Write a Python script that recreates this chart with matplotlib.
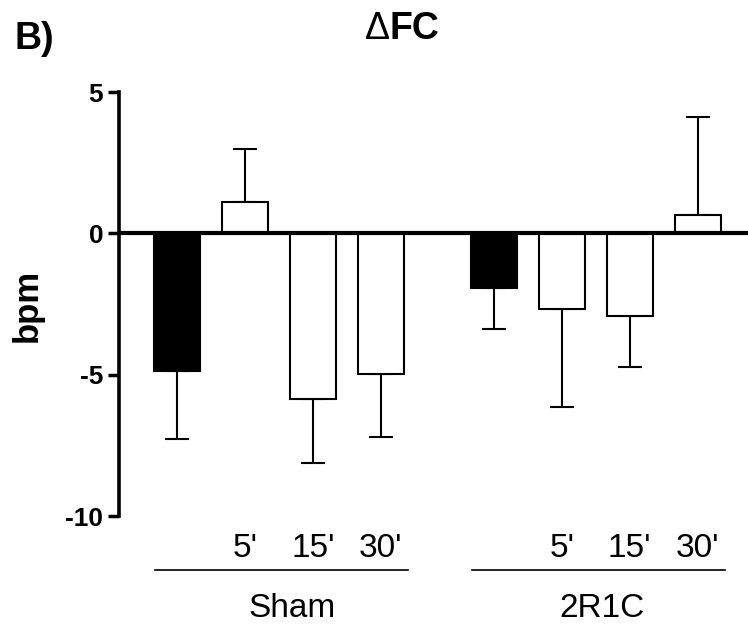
import matplotlib
matplotlib.use("Agg")
import matplotlib.pyplot as plt
import matplotlib.transforms as mtransforms
import numpy as np

plt.rcParams['font.family'] = ['Liberation Sans', 'DejaVu Sans']

groups = ["Sham", "2R1C"]
time_labels = ["", "5'", "15'", "30'"]
sham_mean = [-4.86, 1.10, -5.85, -4.96]
sham_err = [2.41, 1.88, 2.27, 2.23]
r1c_mean = [-1.95, -2.66, -2.91, 0.64]
r1c_err = [1.42, 3.47, 1.81, 3.47]
bar_colors = ["black", "white", "white", "white"]
y_ticks = [-10, -5, 0, 5]

fig = plt.figure(figsize=(7.48, 6.24), dpi=100)
ax = fig.add_axes([118.5 / 748, 1 - 516 / 624, 1 - 118.5 / 748, (516 - 92) / 624])

group_offset = 4.66
width = 0.68
for gi, (means, errs) in enumerate([(sham_mean, sham_err), (r1c_mean, r1c_err)]):
    x = np.arange(4) + gi * group_offset
    ax.bar(x, means, width=width, color=bar_colors, edgecolor="black", linewidth=1.5, zorder=2)
    means = np.array(means)
    errs = np.array(errs)
    lower = np.where(means < 0, errs, 0)
    upper = np.where(means >= 0, errs, 0)
    ax.errorbar(x, means, yerr=[lower, upper], fmt="none", ecolor="black",
                elinewidth=1.5, capsize=8.5, capthick=1.5, zorder=1)

ax.axhline(0, color="black", linewidth=3, zorder=3)

ax.set_xlim(-0.86, 8.40)
ax.set_ylim(-10, 5)
ax.set_yticks(y_ticks)
ax.set_yticklabels([str(v) for v in y_ticks], fontsize=19, fontweight="bold")
ax.tick_params(axis="y", length=8, width=2.5, pad=3)

xt = []
xl = []
for gi in range(2):
    for i in range(4):
        if time_labels[i]:
            xt.append(i + gi * group_offset)
            xl.append(time_labels[i])
ax.set_xticks(xt)
ax.set_xticklabels(xl, fontsize=24)
ax.tick_params(axis="x", length=0, pad=12)

for s in ["top", "right", "bottom"]:
    ax.spines[s].set_visible(False)
ax.spines["left"].set_linewidth(2.6)

trans = mtransforms.blended_transform_factory(ax.transData, ax.transAxes)
for gi, name in enumerate(groups):
    x0 = gi * group_offset - 0.32
    x1 = gi * group_offset + 3.40
    ax.plot([x0, x1], [-0.127, -0.127], color="black", linewidth=1.2,
            transform=trans, clip_on=False)
label_x = [1.70, 6.25]
for gi, name in enumerate(groups):
    ax.text(label_x[gi], -0.217, name, transform=trans, ha="center", va="center",
            fontsize=24)

fig.text(27 / 748, 1 - 305 / 624, "bpm", rotation=90, ha="center", va="center",
         fontsize=25, fontweight="bold")

fig.text(390 / 748, 1 - 29 / 624, "\u0394", ha="right", va="center",
         fontsize=27, fontweight="normal")
fig.text(390 / 748, 1 - 29 / 624, "FC", ha="left", va="center",
         fontsize=27, fontweight="bold")
fig.text(34 / 748, 1 - 39 / 624, "B)", ha="center", va="center",
         fontsize=27, fontweight="bold")

fig.savefig("out.png", dpi=100)
